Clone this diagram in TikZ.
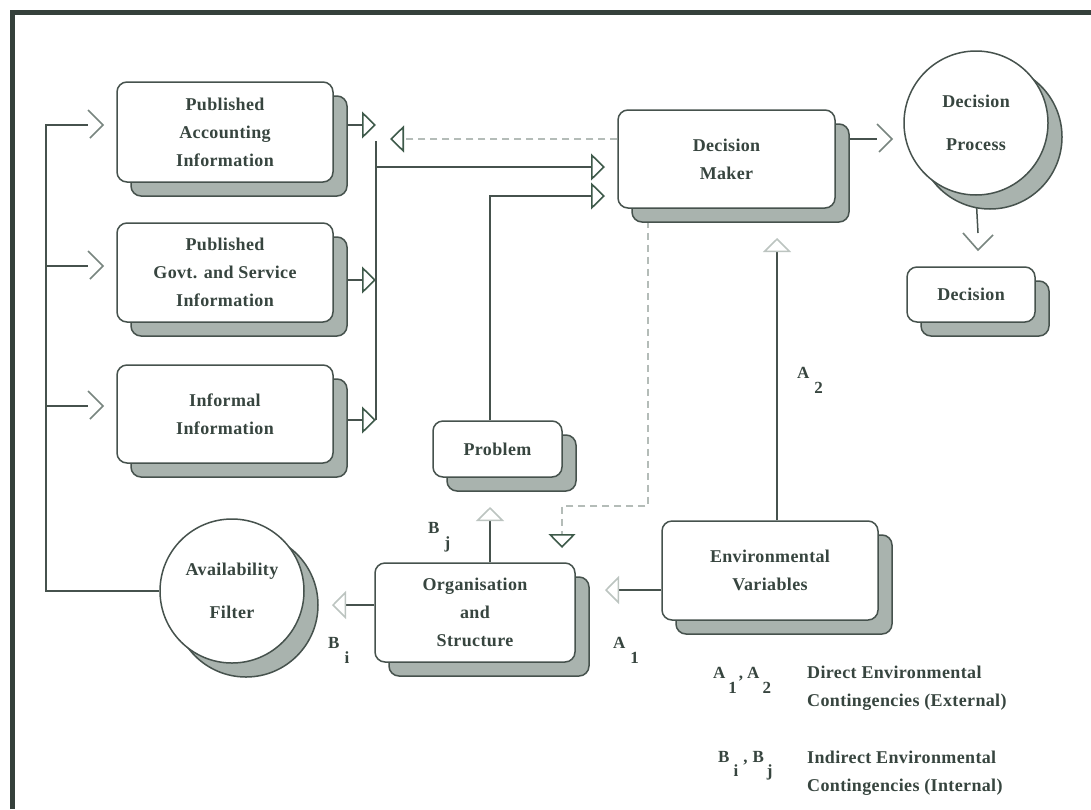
\documentclass[tikz,border=0pt]{standalone}
\usepackage{fontspec}
\setmainfont{Liberation Serif}[LetterSpace=2]
\usetikzlibrary{shadows,arrows.meta,backgrounds}
\definecolor{linecol}{HTML}{46524D}
\definecolor{txtcol}{HTML}{37453F}
\definecolor{shadecol}{HTML}{A9B3AE}
\definecolor{dashcol}{HTML}{B4BCB8}
\definecolor{tridark}{HTML}{3E5A4A}
\definecolor{trilight}{HTML}{BCC4C0}
\definecolor{chevcol}{HTML}{78857F}
\definecolor{framecol}{HTML}{35403B}
\newcommand{\lowsub}[2]{#1\kern5pt\raisebox{-15pt}{#2}}
\begin{document}
\begin{tikzpicture}[x=1pt,y=-1pt,
  box/.style={draw=linecol, line width=1.5pt, fill=white, rounded corners=10pt,
    align=center, text=txtcol, inner sep=0pt,
    font=\bfseries\fontsize{18}{28}\selectfont,
    copy shadow={shadow xshift=14pt, shadow yshift=-14pt, fill=shadecol, draw=linecol, line width=1.5pt}},
  roundbox/.style={circle, draw=linecol, line width=1.5pt, fill=white, minimum size=144pt,
    align=center, text=txtcol, inner sep=0pt,
    font=\bfseries\fontsize{18}{43}\selectfont,
    copy shadow={shadow xshift=14pt, shadow yshift=-14pt, fill=shadecol, draw=linecol, line width=1.5pt}},
  ln/.style={draw=linecol, line width=1.5pt},
  dsh/.style={draw=dashcol, line width=1.3pt, dash pattern=on 7pt off 5pt},
  tipD/.style={-{Triangle[open, length=14pt, width=27pt, color=tridark, line width=1.6pt]}},
  tipL/.style={-{Triangle[open, length=14pt, width=28pt, color=trilight, line width=1.5pt]}},
  chev/.style={draw=chevcol, line width=1.6pt},
  lbl/.style={text=txtcol, inner sep=0pt, font=\bfseries\fontsize{17}{22}\selectfont},
  legend/.style={text=txtcol, inner sep=0pt, align=left, font=\bfseries\fontsize{18}{28.5}\selectfont},
  chevR/.pic={\draw[chev] (0,-15) -- (15,0) -- (2,13);},
  chevDn/.pic={\draw[chev] (-15,0) -- (0,17) -- (15,2);}
]
\useasboundingbox (0,0) rectangle (1091,809);

% ---------- nodes ----------
\node[box, minimum width=216pt, minimum height=100pt] (acc) at (225,132) {Published\\Accounting\\Information};
\node[box, minimum width=216pt, minimum height=99pt] (gov) at (225,272.5) {Published\\Govt. and Service\\Information};
\node[box, minimum width=216pt, minimum height=98pt] (inf) at (225,414) {Informal\\Information};
\node[box, minimum width=217pt, minimum height=98pt] (dm) at (726.5,159) {Decision\\Maker};
\node[roundbox] (dp) at (976,123) {\raisebox{-3pt}{Decision}\\\raisebox{-3pt}{Process}};
\node[box, minimum width=128pt, minimum height=55pt] (dec) at (971,294.5) {Decision};
\node[box, minimum width=129pt, minimum height=56pt] (prob) at (497.5,449) {Problem};
\node[box, minimum width=200pt, minimum height=99pt] (org) at (475,612.5) {Organisation\\and\\Structure};
\node[box, minimum width=216pt, minimum height=99pt] (env) at (770,570.5) {Environmental\\Variables};
\node[roundbox] (af) at (232,591) {Availability\\Filter};

% ---------- coordinates ----------
\coordinate (fbTop) at (46,125);
\coordinate (fbMid) at (46,266);
\coordinate (fbLow) at (46,406);
\coordinate (fbBot) at (46,591);
\coordinate (chA) at (88,125);
\coordinate (chB) at (88,266);
\coordinate (chC) at (88,406);
\coordinate (busA) at (376,125);
\coordinate (busB) at (376,280);
\coordinate (busC) at (376,420);
\coordinate (busD) at (376,167);
\coordinate (dmInA) at (605,167);
\coordinate (dmInB) at (605,196);
\coordinate (colP) at (490,0);
\coordinate (dashT) at (390,139);
\coordinate (dashX) at (648,0);
\coordinate (dashC1) at (648,506);
\coordinate (dashC2) at (562,506);
\coordinate (dashTip) at (562,548);
\coordinate (a2x) at (777,0);
\coordinate (a2Tip) at (777,238);
\coordinate (a1Tip) at (605,590);
\coordinate (biTip) at (332,605);
\coordinate (bjTip) at (490,507);
\coordinate (chDP) at (877,139);
\coordinate (chV) at (978,233);

% ---------- connectors ----------
\begin{scope}[on background layer]
\fill[white] (0,0) rectangle (1091,809);
\draw[ln] (af.west) -- (fbBot) -- (fbTop) -- (chA);
\draw[ln] (fbMid) -- (chB);
\draw[ln] (fbLow) -- (chC);
\draw[ln, tipD] (acc.east |- busA) -- (busA);
\draw[ln, tipD] (gov.east |- busB) -- (busB);
\draw[ln, tipD] (inf.east |- busC) -- (busC);
\draw[ln] ([yshift=-16pt]busA) -- (busC);
\draw[ln, tipD] (busD) -- (dmInA);
\draw[ln, tipD] (prob.north -| colP) |- (dmInB);
\draw[dsh, tipD] (dm.west |- dashT) -- (dashT);
\draw[dsh, tipD] (dm.south -| dashX) -- (dashC1) -- (dashC2) -- (dashTip);
\draw[ln, tipL] (env.north -| a2x) -- (a2Tip);
\draw[ln, tipL] (env.west |- a1Tip) -- (a1Tip);
\draw[ln, tipL] (org.west |- biTip) -- (biTip);
\draw[ln, tipL] (org.north -| colP) -- (bjTip);
\draw[ln] (dm.east |- chDP) -- (chDP);
\draw[ln] (dp.south) -- (chV);
\end{scope}
\pic at (chA) {chevR};
\pic at (chB) {chevR};
\pic at (chC) {chevR};
\pic at (chDP) {chevR};
\pic at (chV) {chevDn};

% ---------- labels ----------
\node[lbl, anchor=base west] (la2) at (797,378) {\lowsub{A}{2}};
\node[lbl, anchor=base west] (lbj) at (428,533) {\lowsub{B}{j}};
\node[lbl, anchor=base west] (lbi) at (328,648) {\lowsub{B}{i}};
\node[lbl, anchor=base west] (la1) at (613,648) {\lowsub{A}{1}};
\node[lbl, anchor=base west] (lgA) at (713,678) {A\kern3pt\raisebox{-15pt}{1}\kern2pt,\kern4pt A\kern3pt\raisebox{-15pt}{2}};
\node[lbl, anchor=base west] (lgB) at (718,762) {B\kern4pt\raisebox{-14pt}{i}\kern5pt,\kern5pt B\kern3pt\raisebox{-14pt}{j}};
\node[legend, anchor=west] (lgAt) at (807,688) {Direct Environmental\\Contingencies (External)};
\node[legend, anchor=west] (lgBt) at (807,773) {Indirect Environmental\\Contingencies (Internal)};

% ---------- frame ----------
\draw[framecol, line width=5pt] (12.5,809) -- (12.5,12) -- (1091,12);
\end{tikzpicture}
\end{document}
